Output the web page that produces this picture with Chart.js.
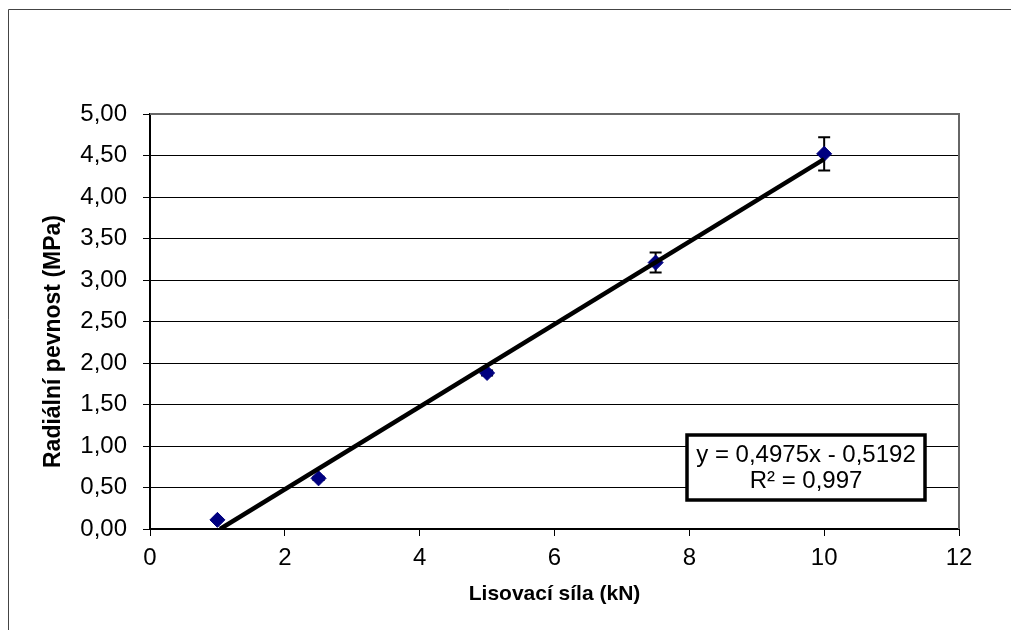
<!DOCTYPE html>
<html>
<head>
<meta charset="utf-8">
<script src="https://cdn.jsdelivr.net/npm/chart.js@4/dist/chart.umd.min.js"></script>
<style>
  body { margin: 0; background: #fff; }
</style>
</head>
<body>
<canvas id="chart" width="1011" height="630"></canvas>
<script>
var forceKN = [1, 2.5, 5, 7.5, 10];
var strengthMPa = [0.11, 0.61, 1.88, 3.21, 4.52];
var strengthErr = [0, 0.02, 0.03, 0.12, 0.2];

// linear trend line end points
var trendX = [1.04, 10];
var trendY = [0, 4.456];

var eqLines = ["y = 0,4975x - 0,5192", "R² = 0,997"];

var xTitle = "Lisovací síla (kN)";
var yTitle = "Radiální pevnost (MPa)";

var FONT = "'Liberation Sans', Arial, sans-serif";

function toPoints(xs, ys) {
  return xs.map(function (x, i) { return { x: x, y: ys[i] }; });
}

// outer frame, top/right border of plot area, y title, equation box
var decorPlugin = {
  id: "decor",
  beforeDraw: function (chart) {
    var ctx = chart.ctx;
    ctx.save();
    ctx.fillStyle = "#fff";
    ctx.fillRect(0, 0, chart.width, chart.height);
    ctx.strokeStyle = "#444";
    ctx.lineWidth = 1;
    ctx.beginPath();
    ctx.moveTo(8.5, chart.height);
    ctx.lineTo(8.5, 9.5);
    ctx.lineTo(chart.width, 9.5);
    ctx.stroke();
    ctx.restore();
  },
  afterDraw: function (chart) {
    var ctx = chart.ctx;
    var a = chart.chartArea;
    ctx.save();
    ctx.strokeStyle = "#666";
    ctx.lineWidth = 2;
    ctx.beginPath();
    ctx.moveTo(a.left, a.top);
    ctx.lineTo(a.right, a.top);
    ctx.lineTo(a.right, a.bottom);
    ctx.stroke();

    // y axis title (sits a bit below the plot centre in the original)
    ctx.save();
    ctx.translate(54, a.top + (a.bottom - a.top) / 2 + 20);
    ctx.rotate(-Math.PI / 2);
    ctx.fillStyle = "#000";
    ctx.font = "bold 23px " + FONT;
    ctx.textAlign = "center";
    ctx.textBaseline = "middle";
    ctx.fillText(yTitle, 0, 0);
    ctx.restore();

    // equation box
    var bx = 687, by = 435, bw = 238, bh = 65;
    ctx.fillStyle = "#fff";
    ctx.fillRect(bx, by, bw, bh);
    ctx.strokeStyle = "#000";
    ctx.lineWidth = 3.5;
    ctx.strokeRect(bx, by, bw, bh);
    ctx.fillStyle = "#000";
    ctx.font = "24px " + FONT;
    ctx.textAlign = "center";
    ctx.textBaseline = "alphabetic";
    ctx.fillText(eqLines[0], bx + bw / 2, 462);
    ctx.fillText(eqLines[1], bx + bw / 2, 488);
    ctx.restore();
  }
};

// vertical error bars with caps
var errorBarPlugin = {
  id: "errorBars",
  beforeDatasetsDraw: function (chart) {
    var ctx = chart.ctx;
    var xs = chart.scales.x, ys = chart.scales.y;
    ctx.save();
    ctx.strokeStyle = "#000";
    ctx.lineWidth = 2;
    for (var i = 0; i < forceKN.length; i++) {
      if (!strengthErr[i]) continue;
      var px = xs.getPixelForValue(forceKN[i]);
      var top = ys.getPixelForValue(strengthMPa[i] + strengthErr[i]);
      var bot = ys.getPixelForValue(strengthMPa[i] - strengthErr[i]);
      ctx.beginPath();
      ctx.moveTo(px, top);
      ctx.lineTo(px, bot);
      ctx.moveTo(px - 6, top);
      ctx.lineTo(px + 6, top);
      ctx.moveTo(px - 6, bot);
      ctx.lineTo(px + 6, bot);
      ctx.stroke();
    }
    ctx.restore();
  }
};

var ctx = document.getElementById("chart").getContext("2d");
var myChart = new Chart(ctx, {
  type: "scatter",
  data: {
    datasets: [
      {
        label: "trend",
        type: "line",
        data: toPoints(trendX, trendY),
        borderColor: "#000",
        borderWidth: 4.5,
        pointRadius: 0,
        fill: false,
        order: 0,
      },
      {
        label: "pevnost",
        data: toPoints(forceKN, strengthMPa),
        pointStyle: "rectRot",
        pointRadius: 7.5,
        backgroundColor: "#000080",
        borderColor: "#000080",
        borderWidth: 1,
        order: 1,
      },
    ],
  },
  options: {
    responsive: false,
    animation: false,
    devicePixelRatio: 1,
    layout: { padding: { top: 114, right: 52, left: 0, bottom: 0 } },
    plugins: {
      legend: { display: false },
      tooltip: { enabled: false },
    },
    scales: {
      x: {
        type: "linear",
        min: 0,
        max: 12,
        afterFit: function (scale) { scale.height = 101; },
        ticks: {
          stepSize: 2,
          color: "#000",
          padding: 8,
          font: { family: FONT, size: 24 },
        },
        grid: {
          drawOnChartArea: false,
          drawTicks: true,
          tickLength: 7,
          tickColor: "#000",
        },
        border: { display: true, color: "#000", width: 2 },
        title: {
          display: true,
          text: xTitle,
          color: "#000",
          font: { family: FONT, size: 21, weight: "bold" },
          padding: { top: 0, bottom: 23 },
        },
      },
      y: {
        min: 0,
        max: 5,
        afterFit: function (scale) { scale.width = 150; },
        ticks: {
          stepSize: 0.5,
          color: "#000",
          padding: 16,
          font: { family: FONT, size: 24 },
          callback: function (v) { return v.toFixed(2).replace(".", ","); },
        },
        grid: {
          color: "#000",
          lineWidth: 1,
          tickLength: 7,
          tickColor: "#000",
        },
        border: { display: true, color: "#000", width: 2 },
        title: { display: false },
      },
    },
  },
  plugins: [decorPlugin, errorBarPlugin],
});
</script>
</body>
</html>
